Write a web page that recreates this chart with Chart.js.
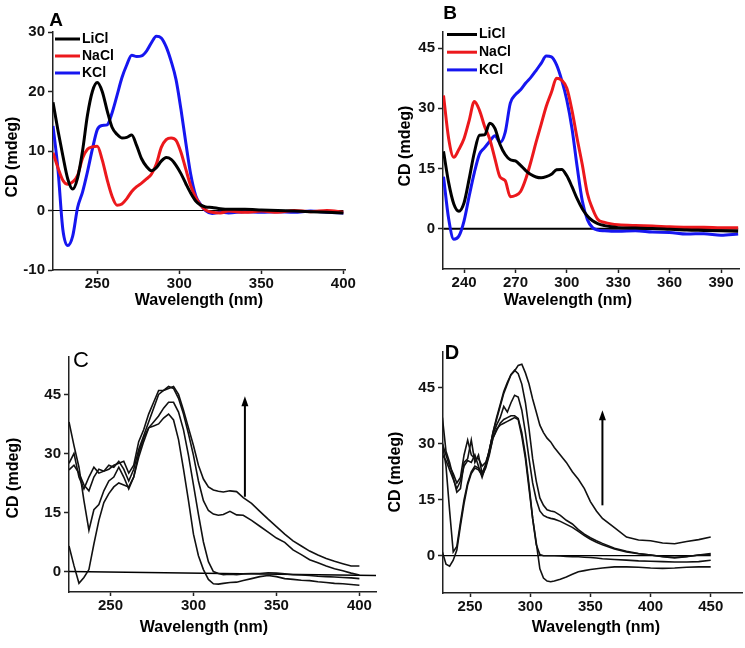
<!DOCTYPE html>
<html lang="en">
<head>
<meta charset="UTF-8">
<title>CD spectra</title>
<script src="https://cdn.jsdelivr.net/npm/chart.js@4.4.1/dist/chart.umd.min.js"></script>
<style>
  html, body { margin: 0; padding: 0; background: #fff; }
  body { width: 745px; height: 648px; position: relative; overflow: hidden; }
  canvas { position: absolute; }
</style>
</head>
<body>
<canvas id="chartA" width="372" height="324" style="left:0px;top:0px"></canvas>
<canvas id="chartB" width="373" height="324" style="left:372px;top:0px"></canvas>
<canvas id="chartC" width="380" height="324" style="left:0px;top:324px"></canvas>
<canvas id="chartD" width="365" height="324" style="left:380px;top:324px"></canvas>
<script>
// ---- panel A: salts, wavelength grid and CD values (mdeg)
const wlA = [223, 226, 229, 232, 235, 238, 241, 244, 247, 250, 253, 256, 259, 262, 265, 268, 271, 274, 277, 280,
             283, 286, 289, 292, 295, 298, 301, 304, 307, 310, 313, 316, 320, 325, 330, 340, 350, 360, 370, 380, 390, 400];
const aLiCl = [18.2, 13.5, 9.2, 5.3, 3.6, 5.5, 10, 16, 20, 21.5, 20, 16.8, 14, 12.8, 12.2, 12.3, 12.7, 10.9, 8.7, 7.4,
               6.7, 7.2, 8.3, 8.9, 8.6, 7.6, 6.2, 4.5, 2.9, 1.6, 0.9, 0.6, 0.5, 0.3, 0.2, 0.2, 0.1, 0, -0.1, -0.2, -0.3, -0.4];
const aNaCl = [9.7, 7.2, 5.1, 4.4, 4.8, 5.9, 8.8, 10.3, 10.7, 10.8, 8.5, 5.2, 2.4, 0.9, 1.1, 2.0, 3.2, 4.0, 4.6, 5.3,
               6.1, 7.8, 10.6, 11.9, 12.2, 11.8, 9.8, 6.9, 4.1, 2.2, 0.9, 0.1, -0.3, -0.4, -0.1, -0.3, -0.1, -0.3, 0, -0.2, 0, -0.3];
const aKCl = [14.2, 7, -3.2, -5.9, -4.3, 0.5, 3.1, 6.5, 10.3, 13.6, 14.3, 14.4, 16.4, 19.3, 22.3, 24.5, 26.1, 25.9, 26, 26.8,
              28.2, 29.3, 29.0, 27.5, 25.1, 22.0, 17.0, 11.3, 6, 2.5, 1.0, 0, -0.5, -0.3, -0.4, -0.2, -0.3, -0.2, -0.3, -0.1, -0.3, -0.4];
const baseWlA = [223, 400];
const baseA = [0, 0];

// ---- panel B
const wlB = [228, 231, 234, 237, 240, 243, 246, 249, 252, 255, 258, 261, 264, 267, 270, 273, 276, 279, 282, 285,
             288, 291, 294, 297, 300, 303, 306, 309, 312, 315, 318, 322, 326, 330, 340, 350, 360, 370, 380, 390, 400];
const bLiCl = [19.3, 11.5, 6.2, 4.4, 6.5, 12.5, 19, 23.3, 23.4, 26.3, 25, 21, 18.5, 17.2, 16.9, 15.8, 14.5, 13.5, 12.9, 12.7,
               13, 13.6, 14.7, 14.8, 13.2, 10.5, 7.5, 5, 3.2, 2.0, 1.3, 0.8, 0.5, 0.3, 0.2, 0.1, -0.1, -0.3, -0.4, -0.5, -0.6];
const bNaCl = [33.2, 22.5, 17.8, 19.8, 22.5, 27, 31.7, 29.5, 25.5, 22.3, 17.5, 12.9, 12, 8.0, 8.3, 9.3, 12.4, 16.7, 21.5, 26,
               30.5, 34, 37.5, 37, 35, 29.5, 22.5, 16, 8.8, 5, 2.4, 1.6, 1.2, 1.0, 0.8, 0.7, 0.5, 0.4, 0.4, 0.3, 0.3];
const bKCl = [13, 2.5, -2.6, -1.8, 2, 8.2, 14, 18.6, 20.2, 21.8, 23.2, 21.5, 24, 31.3, 33.4, 34.6, 36.3, 37.7, 39.4, 41.2,
              43, 42.8, 40.8, 37, 32, 25, 15.5, 7, 2.3, 0.3, -0.3, -0.5, -0.6, -0.6, -0.5, -0.8, -0.9, -1.3, -1.2, -1.6, -1.3];
const baseWlB = [228, 400];
const baseB = [0, 0];

// ---- panel C: titration series (black curves)
const wlC = [225, 228, 231, 234, 237, 240, 243, 246, 249, 252, 255, 258, 261, 264, 267, 270, 273, 276, 279, 282,
             285, 288, 291, 294, 297, 300, 303, 306, 309, 312, 315, 318, 322, 326, 330, 335, 340, 345, 350, 355,
             360, 365, 370, 375, 380, 385, 390, 395, 400];
const c1 = [6.5, 1.5, -3, -1.5, 0.5, 7, 13, 17.5, 19.8, 21.5, 22.5, 22, 21.5, 24, 30, 34, 36.5, 37, 37.5, 39,
            40, 38.5, 33.5, 26, 18, 9.5, 4, 0.5, -2, -3.1, -3.2, -3, -2.8, -2.7, -2.3, -1.8, -1.3, -1, -1.3, -1.8,
            -2, -2.2, -2.3, -2.6, -2.8, -3, -3.1, -3.3, -3.5];
const c2 = [38, 32, 26.5, 18, 10.5, 15.7, 17, 20.5, 23, 24, 26.5, 24, 21, 24, 29, 33, 36.5, 38, 39.5, 41.5,
            43, 43, 40.5, 36, 29.5, 22, 14.5, 7.5, 2.5, 0, -0.5, -0.8, -0.7, -0.8, -0.6, -0.5, -0.5, -0.3, -0.4, -0.6,
            -0.8, -0.9, -1, -1.2, -1.3, -1.4, -1.5, -1.6, -1.8];
const c3 = [27.5, 30, 24, 21, 24, 26.5, 25, 25.5, 27, 26.5, 28, 26, 23, 26, 31, 34.5, 38, 41.5, 45, 46,
            47, 46.5, 44, 40, 35, 29.5, 23, 18, 15.5, 14.6, 14.3, 14.5, 15.3, 14.4, 14.3, 13, 11.5, 10, 8.5, 7.4,
            5.5, 4.3, 3.0, 2.2, 1.4, 0.7, 0.2, -0.4, -0.9];
const c4 = [25.8, 27, 25, 22, 20.5, 24, 26, 25.5, 26, 27, 27.5, 28, 25, 27, 33, 36, 40, 43, 46, 46,
            46.5, 47, 45, 41, 36.5, 32, 27, 23.5, 21.5, 20.7, 20.4, 20.2, 20.5, 20.3, 18.8, 17.3, 15.3, 13.3, 11.4, 9.5,
            7.8, 6.5, 5.2, 4.2, 3.3, 2.6, 2, 1.4, 1.4];
const baseWlC = [225, 410];
const baseC = [0, -1];
const arrowC = [331, 19, 44.5];   // wavelength, from CD, to CD

// ---- panel D
const wlD = [227, 230, 233, 236, 239, 242, 245, 248, 251, 254, 257, 260, 263, 266, 269, 272, 275, 278, 281, 284,
             287, 290, 293, 296, 299, 302, 305, 308, 311, 314, 317, 320, 325, 330, 335, 340, 345, 350, 355, 360,
             370, 380, 390, 400, 410, 420, 430, 440, 450];
const d1 = [1, -2.3, -2.8, -1.2, 1.5, 8, 14, 19, 22, 23.5, 23, 21.5, 23.5, 27, 31.5, 34, 35, 35.5, 36, 36.5,
            37, 36.5, 32, 26, 18, 10, 3.5, -3.5, -6, -6.8, -7, -6.8, -6.3, -5.7, -5, -4.3, -4, -3.7, -3.5, -3.3,
            -3, -3, -3.1, -3.3, -3.4, -3.3, -3.1, -3, -3];
const d2 = [30, 24, 12, 1, 2.5, 9, 15, 19.5, 22.5, 24, 23.5, 22, 24, 27.5, 31.5, 33.5, 35.5, 36.5, 37, 37.5,
            37.5, 36.8, 33, 27, 19, 10, 3, 0.3, 0, 0, 0, 0, -0.1, -0.2, -0.3, -0.3, -0.4, -0.5, -0.6, -0.8,
            -1, -1.2, -1.4, -1.5, -1.6, -1.7, -1.7, -1.6, -1.2];
const d3 = [37, 28, 25, 21, 17, 18, 25, 26, 31, 25, 27, 22, 24.5, 28, 33, 36.5, 40, 43.5, 46, 48.5,
            49.7, 48.8, 46, 41, 34, 26, 20, 15.5, 13.5, 12.3, 12, 11.8, 10.8, 9.5, 8.5, 7, 5.8, 4.8, 4, 3.3,
            2, 1.2, 0.6, 0.2, -0.3, -0.6, -0.3, 0.2, 0.6];
const d4 = [27, 25.5, 23, 20.5, 18, 20, 24, 25.5, 25, 27, 24, 21, 24, 28.5, 32.5, 35, 37, 40, 38.5, 41,
            43, 42.5, 39, 33, 26, 19.5, 15, 12, 10.8, 10.3, 10, 9.8, 9.2, 8.4, 7.6, 6.5, 5.4, 4.4, 3.6, 2.9,
            1.8, 1.0, 0.5, 0.2, -0.2, -0.4, -0.2, 0.2, 0.3];
const d5 = [30, 27, 24, 22, 19.5, 21, 27, 31, 27, 26, 26, 24, 25, 28, 33, 37, 40.5, 44, 46.5, 48.5,
            49.5, 51, 51.3, 49, 46, 42, 38.5, 35, 33, 31.5, 30.5, 29, 27, 25, 22.5, 20.5, 18, 14.5, 12, 10,
            7.5, 5, 4.2, 4, 3.4, 3.2, 3.8, 4.3, 5];
const baseWlD = [227, 450];
const baseD = [0, 0];
const arrowD = [360, 13.5, 39];

// ---- tick labels
const xTicksA = [250, 300, 350, 400];
const yTicksA = [-10, 0, 10, 20, 30];
const xTicksB = [240, 270, 300, 330, 360, 390];
const yTicksB = [0, 15, 30, 45];
const xTicksC = [250, 300, 350, 400];
const yTicksC = [0, 15, 30, 45];
const xTicksD = [250, 300, 350, 400, 450];
const yTicksD = [0, 15, 30, 45];

const FONT = '"Liberation Sans", Arial, Helvetica, sans-serif';
const RED = 'rgb(236, 24, 28)';
const BLUE = 'rgb(22, 22, 240)';

function pts(xs, ys) {
    return xs.map((x, i) => ({ x: x, y: ys[i] }));
}

function colored(label, xs, ys, color) {
    return { label: label, data: pts(xs, ys), borderColor: color, borderWidth: 3,
             pointRadius: 0, cubicInterpolationMode: 'monotone', fill: false };
}

function blackLine(xs, ys) {
    return { data: pts(xs, ys), borderColor: '#111', borderWidth: 1.6, pointRadius: 0, tension: 0, fill: false };
}

function baseLine(xs, ys, w) {
    return { data: pts(xs, ys), borderColor: '#000', borderWidth: w, pointRadius: 0, order: 10, fill: false };
}

// panel letter, axis titles, inner legend and arrow
const decor = {
    id: 'decor',
    afterDraw(chart, args, o) {
        const ctx = chart.ctx;
        const ox = o.origin[0], oy = o.origin[1];
        ctx.save();
        ctx.fillStyle = '#000';
        ctx.textAlign = 'center';
        ctx.textBaseline = 'middle';
        ctx.font = o.letterFont;
        ctx.fillText(o.letter, o.letterAt[0] - ox, o.letterAt[1] - oy);
        ctx.font = 'bold 16px ' + FONT;
        ctx.fillText('Wavelength (nm)', o.xTitleAt[0] - ox, o.xTitleAt[1] - oy);
        ctx.save();
        ctx.translate(o.yTitleAt[0] - ox, o.yTitleAt[1] - oy);
        ctx.rotate(-Math.PI / 2);
        ctx.fillText('CD (mdeg)', 0, 0);
        ctx.restore();

        const area = chart.chartArea;
        if (o.legend) {
            ctx.font = 'bold 14px ' + FONT;
            ctx.textAlign = 'left';
            chart.data.datasets.filter(d => d.label).forEach((d, i) => {
                const y = area.top + o.legend.top + i * o.legend.gap;
                ctx.strokeStyle = d.borderColor;
                ctx.lineWidth = 3;
                ctx.beginPath();
                ctx.moveTo(area.left + o.legend.x0, y);
                ctx.lineTo(area.left + o.legend.x1, y);
                ctx.stroke();
                ctx.fillText(d.label, area.left + o.legend.x1 + 2, y);
            });
        }
        if (o.arrow) {
            const px = chart.scales.x.getPixelForValue(o.arrow[0]);
            const p0 = chart.scales.y.getPixelForValue(o.arrow[1]);
            const p1 = chart.scales.y.getPixelForValue(o.arrow[2]);
            ctx.strokeStyle = '#000';
            ctx.lineWidth = 2;
            ctx.beginPath();
            ctx.moveTo(px, p0);
            ctx.lineTo(px, p1 + 8);
            ctx.stroke();
            ctx.beginPath();
            ctx.moveTo(px, p1);
            ctx.lineTo(px - 3.5, p1 + 10);
            ctx.lineTo(px + 3.5, p1 + 10);
            ctx.closePath();
            ctx.fill();
        }
        ctx.restore();
    }
};

function makePanel(id, p) {
    const tickFont = { family: FONT, size: 15, weight: 'bold' };
    const gridOpts = { drawOnChartArea: false, drawTicks: true, tickLength: 5, tickColor: '#222', tickWidth: 1.5 };
    return new Chart(document.getElementById(id), {
        type: 'line',
        data: { datasets: p.datasets },
        options: {
            responsive: false,
            animation: false,
            devicePixelRatio: 1,
            events: [],
            layout: { padding: p.padding },
            plugins: { legend: { display: false }, tooltip: { enabled: false }, decor: p.decor },
            scales: {
                x: {
                    type: 'linear', min: p.xMin, max: p.xMax,
                    afterBuildTicks: s => { s.ticks = p.xTicks.map(v => ({ value: v })); },
                    afterFit: s => { s.height = 30; },
                    grid: Object.assign({}, gridOpts, { tickLength: 4 }),
                    border: { color: '#222', width: 1.5 },
                    ticks: { color: '#111', padding: 1, maxRotation: 0, autoSkip: false, font: tickFont }
                },
                y: {
                    type: 'linear', min: p.yMin, max: p.yMax,
                    afterBuildTicks: s => { s.ticks = p.yTicks.map(v => ({ value: v })); },
                    afterFit: s => { s.width = p.yW; },
                    grid: gridOpts,
                    border: { color: '#222', width: 1.5 },
                    ticks: { color: '#111', padding: 3, autoSkip: false, font: tickFont }
                }
            }
        },
        plugins: [decor]
    });
}

makePanel('chartA', {
    datasets: [baseLine(baseWlA, baseA, 1),
               colored('LiCl', wlA, aLiCl, '#000'),
               colored('NaCl', wlA, aNaCl, RED),
               colored('KCl', wlA, aKCl, BLUE)],
    xMin: 223, xMax: 401, yMin: -10, yMax: 30,
    xTicks: xTicksA, yTicks: yTicksA, yW: 53,
    padding: { left: 0, top: 32, right: 27, bottom: 24 },
    decor: { origin: [0, 0], letter: 'A', letterFont: 'bold 19px ' + FONT, letterAt: [56, 21],
             xTitleAt: [199, 301], yTitleAt: [13, 157],
             legend: { x0: 2, x1: 27, top: 7, gap: 17 } }
});

makePanel('chartB', {
    datasets: [baseLine(baseWlB, baseB, 2),
               colored('LiCl', wlB, bLiCl, '#000'),
               colored('NaCl', wlB, bNaCl, RED),
               colored('KCl', wlB, bKCl, BLUE)],
    xMin: 227.7, xMax: 400.5, yMin: -10, yMax: 49,
    xTicks: xTicksB, yTicks: yTicksB, yW: 71,
    padding: { left: 0, top: 32, right: 6, bottom: 25 },
    decor: { origin: [372, 0], letter: 'B', letterFont: 'bold 19px ' + FONT, letterAt: [450, 14],
             xTitleAt: [568, 301], yTitleAt: [406, 146],
             legend: { x0: 4, x1: 34, top: 2.5, gap: 17.7 } }
});

makePanel('chartC', {
    datasets: [baseLine(baseWlC, baseC, 1.5),
               blackLine(wlC, c1), blackLine(wlC, c2), blackLine(wlC, c3), blackLine(wlC, c4)],
    xMin: 225, xMax: 410, yMin: -5.2, yMax: 54.5,
    xTicks: xTicksC, yTicks: yTicksC, yW: 69,
    padding: { left: 0, top: 33, right: 4, bottom: 26 },
    decor: { origin: [0, 324], letter: 'C', letterFont: '22px ' + FONT, letterAt: [81, 361],
             xTitleAt: [204, 628], yTitleAt: [14, 478], arrow: arrowC }
});

makePanel('chartD', {
    datasets: [baseLine(baseWlD, baseD, 1.3),
               blackLine(wlD, d1), blackLine(wlD, d2), blackLine(wlD, d3), blackLine(wlD, d4), blackLine(wlD, d5)],
    xMin: 227.5, xMax: 476, yMin: -10, yMax: 54.6,
    xTicks: xTicksD, yTicks: yTicksD, yW: 63,
    padding: { left: 0, top: 28, right: 3, bottom: 25 },
    decor: { origin: [380, 324], letter: 'D', letterFont: 'bold 20px ' + FONT, letterAt: [452, 353],
             xTitleAt: [596, 628], yTitleAt: [396, 472], arrow: arrowD }
});
</script>
</body>
</html>
